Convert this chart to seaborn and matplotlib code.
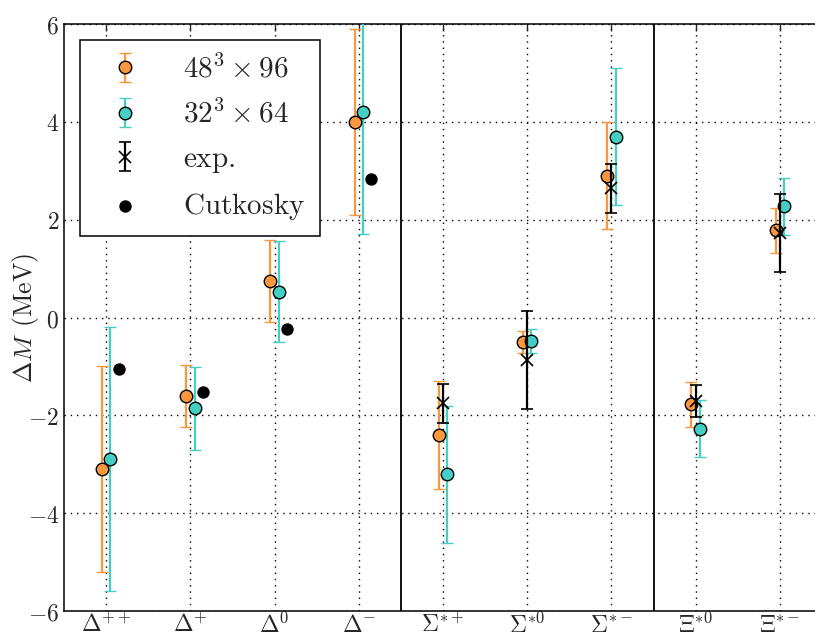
import numpy as np
import pandas as pd
import matplotlib
matplotlib.use("Agg")
import matplotlib.pyplot as plt
from matplotlib.ticker import FuncFormatter, MultipleLocator
import seaborn as sns

# Baryon labels along the x axis
states = [r"$\Delta^{++}$", r"$\Delta^{+}$", r"$\Delta^{0}$", r"$\Delta^{-}$",
          r"$\Sigma^{*+}$", r"$\Sigma^{*0}$", r"$\Sigma^{*-}$",
          r"$\Xi^{*0}$", r"$\Xi^{*-}$"]

# Lattice results, 48^3 x 96 ensemble (MeV)
dm_48 = [-3.1, -1.6, 0.75, 4.0, -2.4, -0.5, 2.9, -1.77, 1.78]
err_48 = [2.1, 0.63, 0.84, 1.9, 1.1, 0.22, 1.1, 0.46, 0.46]

# Lattice results, 32^3 x 64 ensemble (MeV)
dm_32 = [-2.9, -1.86, 0.53, 4.2, -3.2, -0.48, 3.7, -2.27, 2.27]
err_32 = [2.7, 0.84, 1.03, 2.5, 1.4, 0.25, 1.4, 0.58, 0.58]

# Experimental splittings (available for Sigma* and Xi* only)
exp_idx = [4, 5, 6, 7, 8]
dm_exp = [-1.75, -0.87, 2.64, -1.7, 1.72]
err_exp = [0.4, 1.0, 0.5, 0.33, 0.8]

# Cutkosky estimates for the Delta quartet
cut_idx = [0, 1, 2, 3]
dm_cut = [-1.05, -1.53, -0.24, 2.83]

sns.set_style("white")
plt.rcParams.update({
    "mathtext.fontset": "cm",
    "xtick.direction": "in",
    "ytick.direction": "in",
    "xtick.top": True,
    "ytick.right": True,
    "xtick.major.size": 5,
    "ytick.major.size": 5,
    "xtick.major.width": 1.0,
    "ytick.major.width": 1.0,
    "xtick.major.pad": 1.5,
    "axes.linewidth": 1.1,
    "axes.edgecolor": "black",
})

c48 = "#f9973f"
c32 = "#45cfc4"

fig = plt.figure(figsize=(8.15, 6.37), dpi=100)
ax = fig.add_axes([64 / 815, 1 - 611 / 637, (822 - 64) / 815, (611 - 24) / 637])

x = np.arange(len(states))
shift = 0.05

ax.errorbar(x - shift, dm_48, yerr=err_48, fmt="o", color=c48, ecolor=c48,
            mfc=c48, mec="black", mew=1.0, ms=9, elinewidth=1.6,
            capsize=4, capthick=1.4, label=r"$48^3\times96$", zorder=3)
ax.errorbar(x + shift, dm_32, yerr=err_32, fmt="o", color=c32, ecolor=c32,
            mfc=c32, mec="black", mew=1.0, ms=9, elinewidth=1.6,
            capsize=4, capthick=1.4, label=r"$32^3\times64$", zorder=3)
ax.errorbar(np.array(exp_idx, dtype=float), dm_exp, yerr=err_exp, fmt="x",
            color="black", ms=9, mew=1.2, elinewidth=1.6, capsize=4,
            capthick=1.4, label=r"$\mathrm{exp.}$", zorder=4)

cut_df = pd.DataFrame({"x": np.array(cut_idx) + 0.15, "dm": dm_cut})
sns.scatterplot(data=cut_df, x="x", y="dm", ax=ax, color="black", s=80,
                edgecolor="black", linewidth=0, label=r"$\mathrm{Cutkosky}$",
                zorder=5)

# Multiplet separators
for xs in (3.5, 6.5):
    ax.axvline(xs, color="black", lw=1.3, zorder=2)

ax.set_xlim(-0.5, 8.5)
ax.set_ylim(-6, 6)
ax.set_xticks(x)
ax.set_xticklabels(states, fontsize=17)
ax.yaxis.set_major_locator(MultipleLocator(2))
ax.yaxis.set_major_formatter(FuncFormatter(lambda v, p: r"$%d$" % v))
ax.tick_params(axis="y", labelsize=17)
ax.set_xlabel("")
ax.set_ylabel(r"$\Delta M\;\,(\mathrm{MeV})$", fontsize=18.5)
ax.yaxis.set_label_coords(-0.031, 0.5)

ax.grid(True, color="black", linestyle=(0, (1, 3.5)), linewidth=1.0, zorder=0)
ax.set_axisbelow(True)

handles, labels = ax.get_legend_handles_labels()
order = [labels.index(l) for l in [r"$48^3\times96$", r"$32^3\times64$",
                                   r"$\mathrm{exp.}$", r"$\mathrm{Cutkosky}$"]]
leg = ax.legend([handles[i] for i in order], [labels[i] for i in order],
                loc="upper left", bbox_to_anchor=(0.021, 0.973), borderaxespad=0,
                fontsize=21, frameon=True, fancybox=False, edgecolor="black",
                framealpha=1, handlelength=2.1, handletextpad=0.95,
                labelspacing=0.55, borderpad=0.5, numpoints=1)
leg.get_frame().set_linewidth(1.1)

fig.savefig("out.png", dpi=100)
